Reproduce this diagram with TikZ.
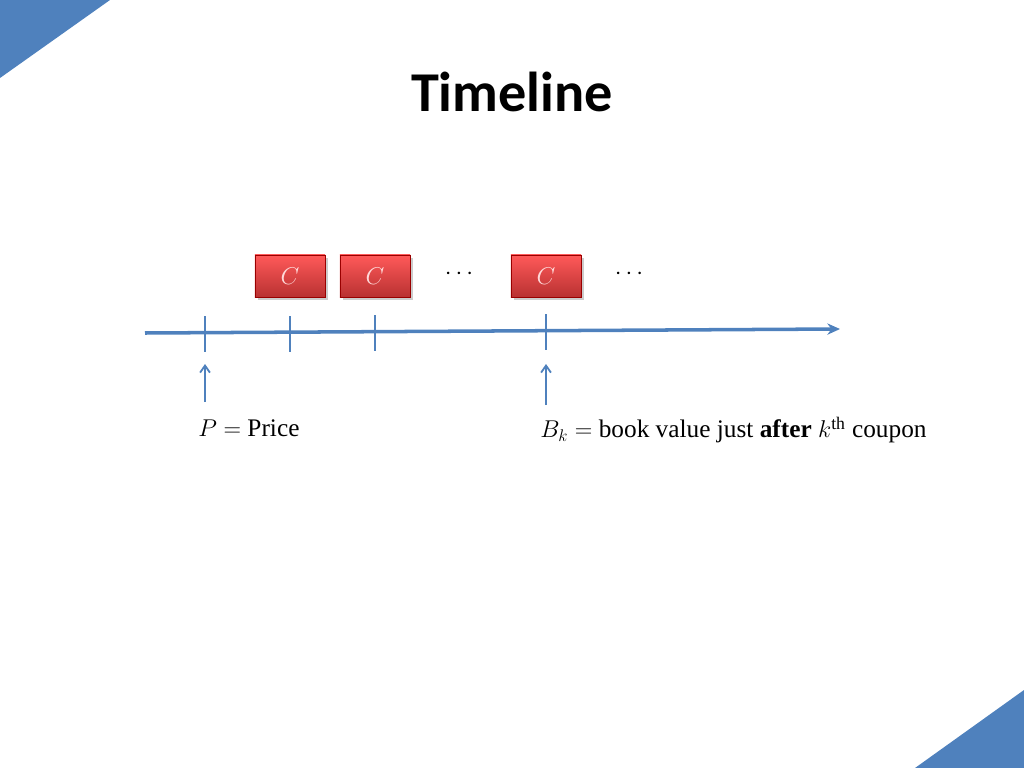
\documentclass[tikz,border=0pt]{standalone}
\usepackage{fontspec}
\newfontfamily\titlefont{Carlito}
\setmainfont{Liberation Serif}
\usetikzlibrary{arrows.meta, shadows, calc}
\definecolor{slideblue}{HTML}{4F81BD}
\definecolor{boxred}{HTML}{D93A3A}

\begin{document}
\begin{tikzpicture}[x=0.025cm, y=-0.025cm,
    % styles
    axis/.style={slideblue, line width=2.5pt, -{Stealth[length=9pt, width=8pt]}},
    tick/.style={slideblue, line width=1.6pt},
    pointer/.style={slideblue, line width=1.3pt, -{Straight Barb[length=5pt, width=7pt]}},
    coupon/.style={rectangle, draw=red!60!black, top color=red!65, bottom color=boxred!85!black,
        minimum width=1.75cm, minimum height=1.05cm, text=red!15, font=\fontsize{17}{20}\selectfont,
        drop shadow={shadow xshift=2pt, shadow yshift=-2pt, opacity=0.4}},
    lbl/.style={font=\fontsize{18}{22}\selectfont, anchor=west, inner sep=0pt},
]
\useasboundingbox (0,0) rectangle (1024,768);

% corner triangles
\fill[slideblue] (0,0) -- (110,0) -- (0,78) -- cycle;
\fill[slideblue] (1024,690) -- (1024,768) -- (915,768) -- cycle;

% title
\node[font=\titlefont\bfseries\fontsize{40}{44}\selectfont] (title) at (512,92) {Timeline};

% axis
\coordinate (start) at (145,333);
\coordinate (end) at (840,329);
\draw[axis] (start) -- (end);

% ticks
\foreach \x/\y [count=\i] in {205/333, 290/333, 375/332, 546/331} {
    \coordinate (t\i) at (\x,\y);
    \draw[tick] ($(t\i)+(0,-17)$) -- ($(t\i)+(0,19)$);
}

% coupons
\node[coupon] (c1) at (290,276) {$C$};
\node[coupon] (c2) at (375,276) {$C$};
\node[coupon] (c3) at (546,276) {$C$};
\node[font=\fontsize{17}{20}\selectfont] (dots1) at (459,274) {$\cdots$};
\node[font=\fontsize{17}{20}\selectfont] (dots2) at (629,274) {$\cdots$};

% labels
\node[lbl] (price) at (198,428) {$P=$ Price};
\node[lbl] (book) at (540,430) {$B_k=$ book value just \textbf{after} $k^{\mathrm{th}}$ coupon};

% pointers
\coordinate (p1) at (205,364);
\coordinate (p2) at (546,364);
\draw[pointer] (205,402) -- (p1);
\draw[pointer] (546,405) -- (p2);
\end{tikzpicture}
\end{document}
